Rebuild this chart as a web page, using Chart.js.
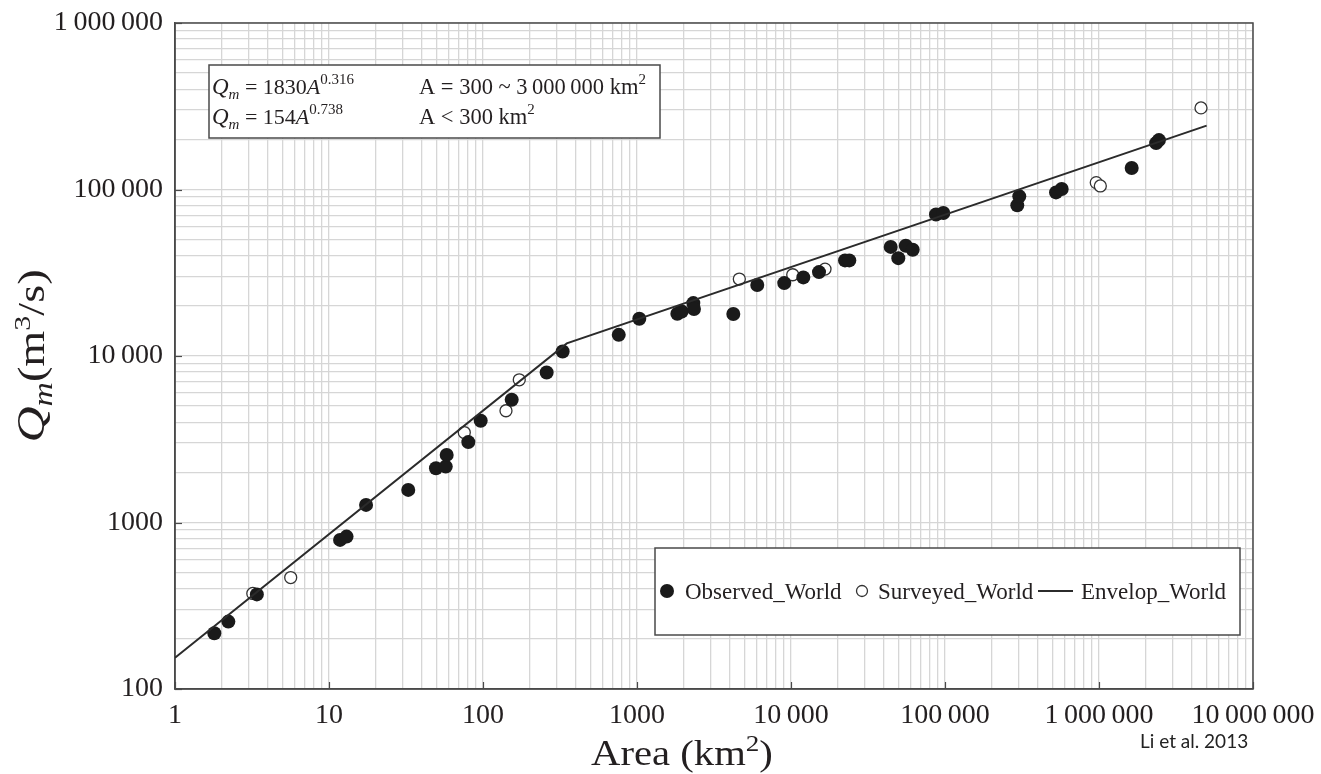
<!DOCTYPE html>
<html>
<head>
<meta charset="utf-8">
<title>Qm vs Area</title>
<script src="https://cdn.jsdelivr.net/npm/chart.js@4.4.1/dist/chart.umd.min.js"></script>
<style>
    body { margin: 0; background: #fff; }
    #wrap { width: 1321px; height: 774px; }
</style>
</head>
<body>
<div id="wrap"><canvas id="chart" width="1321" height="774"></canvas></div>
<script>
// Observed_World (filled dots)
const observedArea = [1.80, 2.22, 3.4, 11.8, 13.0, 17.4, 32.7, 49.5, 57.3, 58.1, 80.3, 96.6, 153.6, 259, 329,
    761, 1035, 1828, 1950, 2321, 2344, 4220, 6040, 9040, 12020, 15200, 22430, 23910,
    44400, 49750, 55600, 61700, 87400, 97500, 294700, 303600, 526000, 572500, 1630000, 2350000, 2450000];
const observedQ = [216, 254, 370, 786, 823, 1276, 1570, 2118, 2166, 2547, 3040, 4084, 5457, 7960, 10640,
    13400, 16750, 17950, 18490, 20790, 19140, 17870, 26680, 27400, 29650, 31900, 37500, 37500,
    45200, 38700, 45920, 43450, 70700, 72300, 80340, 90960, 96100, 100700, 134600, 190000, 198000];

// Surveyed_World (open circles)
const surveyedArea = [3.2, 5.64, 75.6, 141, 172, 4617, 10260, 16630, 960000, 1020000, 4595000];
const surveyedQ = [375, 467, 3468, 4691, 7195, 28980, 30750, 33270, 110000, 105000, 309000];

// Envelop_World (two power-law segments, break near 350 km2)
const envelopeArea = [1, 350, 5000000];
const envelopeQ = [154, 11900, 242000];

// labelled decades
const xTickValues = [1, 10, 100, 1000, 10000, 100000, 1000000, 10000000];
const yTickValues = [100, 1000, 10000, 100000, 1000000];

const SERIF = '"Liberation Serif", "DejaVu Serif", serif';
const INK = '#231f20';
const FRAME = '#4a4a4a';
const GRID = '#d6d6d6';

function toPoints(xs, ys) {
    return xs.map((x, i) => ({ x: x, y: ys[i] }));
}

// every 1..9 x 10^n between the first and last labelled decade
function logGrid(decades) {
    const out = [];
    decades.forEach((d, i) => {
        if (i === decades.length - 1) { out.push(d); return; }
        for (let m = 1; m <= 9; m++) out.push(Number((m * d).toPrecision(12)));
    });
    return out.map(v => ({ value: v }));
}

function isDecade(v) {
    const l = Math.log10(v);
    return Math.abs(l - Math.round(l)) < 1e-9;
}

function fmt(v) {
    if (!isDecade(v)) return '';
    const s = String(Math.round(v));
    if (s.length <= 4) return s;
    return s.replace(/\B(?=(\d{3})+(?!\d))/g, '\u2009');
}

// draw a run of text pieces: {t, size, italic, dy}
function runWidth(ctx, runs) {
    let w = 0;
    runs.forEach(r => {
        ctx.font = (r.italic ? 'italic ' : '') + r.size + 'px ' + SERIF;
        w += ctx.measureText(r.t).width;
    });
    return w;
}
function drawRuns(ctx, x, y, runs) {
    runs.forEach(r => {
        ctx.font = (r.italic ? 'italic ' : '') + r.size + 'px ' + SERIF;
        ctx.fillText(r.t, x, y + (r.dy || 0));
        x += ctx.measureText(r.t).width;
    });
    return x;
}

const decorPlugin = {
    id: 'decor',
    beforeDatasetsDraw(chart) {
        const ctx = chart.ctx;
        const a = chart.chartArea;
        const xs = chart.scales.x, ys = chart.scales.y;
        ctx.save();

        // frame (top / right too)
        ctx.strokeStyle = FRAME;
        ctx.lineWidth = 1.5;
        ctx.strokeRect(a.left, a.top, a.right - a.left, a.bottom - a.top);

        // small inward ticks at the decades
        ctx.lineWidth = 1.2;
        xTickValues.forEach(v => {
            const px = Math.round(xs.getPixelForValue(v)) + 0.5;
            ctx.beginPath(); ctx.moveTo(px, a.bottom); ctx.lineTo(px, a.bottom - 7); ctx.stroke();
        });
        yTickValues.forEach(v => {
            const py = Math.round(ys.getPixelForValue(v)) + 0.5;
            ctx.beginPath(); ctx.moveTo(a.left, py); ctx.lineTo(a.left + 7, py); ctx.stroke();
        });

        // formula box
        ctx.fillStyle = '#fff';
        ctx.fillRect(209, 65, 451, 73);
        ctx.strokeStyle = FRAME;
        ctx.lineWidth = 1.5;
        ctx.strokeRect(209, 65, 451, 73);
        ctx.fillStyle = INK;
        ctx.textBaseline = 'alphabetic';
        ctx.textAlign = 'left';
        drawRuns(ctx, 212, 94, [
            { t: 'Q', size: 23, italic: true },
            { t: 'm', size: 15, italic: true, dy: 5 },
            { t: ' = 1830', size: 22 },
            { t: 'A', size: 22, italic: true },
            { t: '0.316', size: 15, dy: -10 }
        ]);
        drawRuns(ctx, 212, 124, [
            { t: 'Q', size: 23, italic: true },
            { t: 'm', size: 15, italic: true, dy: 5 },
            { t: ' = 154', size: 22 },
            { t: 'A', size: 22, italic: true },
            { t: '0.738', size: 15, dy: -10 }
        ]);
        drawRuns(ctx, 419, 94, [
            { t: 'A = 300 ~ 3\u2009000\u2009000 km', size: 22.5 },
            { t: '2', size: 15, dy: -10 }
        ]);
        drawRuns(ctx, 419, 124, [
            { t: 'A < 300 km', size: 22.5 },
            { t: '2', size: 15, dy: -10 }
        ]);

        // legend box
        ctx.fillStyle = '#fff';
        ctx.fillRect(655, 548, 585, 87);
        ctx.strokeStyle = FRAME;
        ctx.strokeRect(655, 548, 585, 87);
        ctx.fillStyle = '#1a1a1a';
        ctx.beginPath(); ctx.arc(667, 591, 7, 0, Math.PI * 2); ctx.fill();
        ctx.strokeStyle = '#333';
        ctx.lineWidth = 1.3;
        ctx.beginPath(); ctx.arc(862, 591, 5.5, 0, Math.PI * 2); ctx.stroke();
        ctx.strokeStyle = '#2b2b2b';
        ctx.lineWidth = 2;
        ctx.beginPath(); ctx.moveTo(1038, 591); ctx.lineTo(1073, 591); ctx.stroke();
        ctx.fillStyle = INK;
        ctx.font = '23px ' + SERIF;
        ctx.fillText('Observed_World', 685, 599);
        ctx.fillText('Surveyed_World', 878, 599);
        ctx.fillText('Envelop_World', 1081, 599);

        ctx.restore();
    },
    afterDraw(chart) {
        const ctx = chart.ctx;
        ctx.save();
        ctx.fillStyle = INK;
        ctx.textBaseline = 'alphabetic';
        ctx.textAlign = 'left';

        // x title (slightly widened like the source figure)
        const xr = [
            { t: 'Area (km', size: 36 },
            { t: '2', size: 24, dy: -14 },
            { t: ')', size: 36 }
        ];
        ctx.translate(682, 765);
        ctx.scale(1.13, 1);
        drawRuns(ctx, -runWidth(ctx, xr) / 2, 0, xr);
        ctx.setTransform(1, 0, 0, 1, 0, 0);

        // y title, rotated and stretched along its length
        const yr = [
            { t: 'Q', size: 40, italic: true },
            { t: 'm', size: 27, italic: true, dy: 8 },
            { t: '(m', size: 37 },
            { t: '3', size: 24, dy: -14 },
            { t: '/s)', size: 37 }
        ];
        ctx.translate(44, 356);
        ctx.rotate(-Math.PI / 2);
        ctx.scale(1.25, 1);
        drawRuns(ctx, -runWidth(ctx, yr) / 2, 0, yr);
        ctx.setTransform(1, 0, 0, 1, 0, 0);

        // source note
        ctx.font = '19px Lato, "Open Sans", sans-serif';
        ctx.fillStyle = '#222';
        ctx.fillText('Li et al. 2013', 1140, 748);
        ctx.restore();
    }
};

const ctx = document.getElementById('chart').getContext('2d');
const chart = new Chart(ctx, {
    type: 'scatter',
    data: {
        datasets: [
            {
                label: 'Envelop_World',
                type: 'line',
                data: toPoints(envelopeArea, envelopeQ),
                borderColor: '#2b2b2b',
                borderWidth: 2,
                pointRadius: 0,
                fill: false,
                tension: 0,
                order: 0
            },
            {
                label: 'Observed_World',
                data: toPoints(observedArea, observedQ),
                backgroundColor: '#1a1a1a',
                borderColor: '#1a1a1a',
                borderWidth: 0,
                pointRadius: 7,
                order: 1
            },
            {
                label: 'Surveyed_World',
                data: toPoints(surveyedArea, surveyedQ),
                backgroundColor: '#fff',
                borderColor: '#333',
                borderWidth: 1.3,
                pointRadius: 6,
                order: 2
            }
        ]
    },
    options: {
        responsive: false,
        animation: false,
        devicePixelRatio: 1,
        layout: { padding: { top: 23, right: 68, left: 0, bottom: 0 } },
        plugins: {
            legend: { display: false },
            tooltip: { enabled: false }
        },
        scales: {
            x: {
                type: 'logarithmic',
                min: xTickValues[0],
                max: xTickValues[xTickValues.length - 1],
                afterBuildTicks: s => { s.ticks = logGrid(xTickValues); },
                afterFit: s => { s.height = 85; s.paddingLeft = 0; s.paddingRight = 0; },
                ticks: {
                    autoSkip: false,
                    maxRotation: 0,
                    padding: 10,
                    color: INK,
                    font: { family: SERIF, size: 28 },
                    callback: v => fmt(v)
                },
                grid: { color: GRID, lineWidth: 1.3, drawTicks: false },
                border: { color: FRAME, width: 1.5 }
            },
            y: {
                type: 'logarithmic',
                min: yTickValues[0],
                max: yTickValues[yTickValues.length - 1],
                afterBuildTicks: s => { s.ticks = logGrid(yTickValues); },
                afterFit: s => { s.width = 175; s.paddingTop = 0; s.paddingBottom = 0; },
                ticks: {
                    autoSkip: false,
                    padding: 12,
                    color: INK,
                    font: { family: SERIF, size: 28 },
                    callback: v => fmt(v)
                },
                grid: { color: GRID, lineWidth: 1.3, drawTicks: false },
                border: { color: FRAME, width: 1.5 }
            }
        }
    },
    plugins: [decorPlugin]
});
</script>
</body>
</html>
